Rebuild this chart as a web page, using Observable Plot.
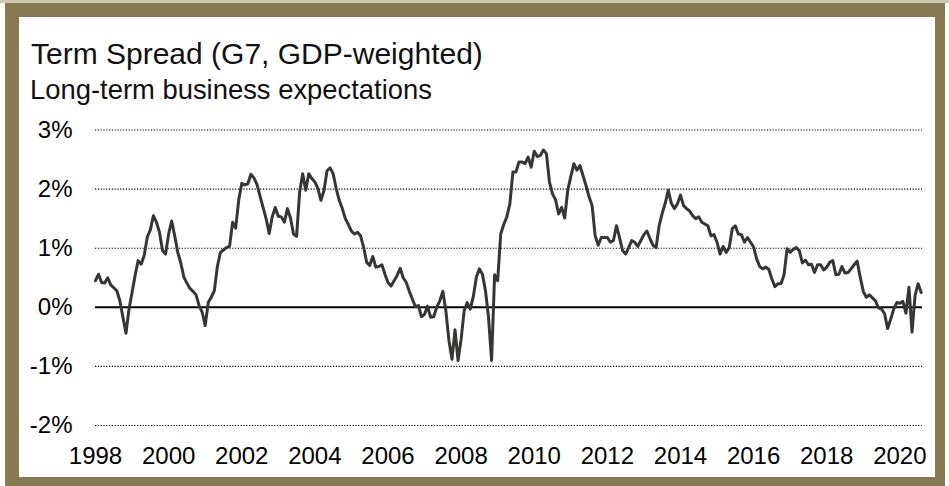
<!DOCTYPE html>
<html>
<head>
<meta charset="utf-8">
<script src="https://cdn.jsdelivr.net/npm/d3@7"></script>
<script src="https://cdn.jsdelivr.net/npm/@observablehq/plot@0.6"></script>
<style>
  html, body { margin: 0; padding: 0; background: #fff; }
  body { width: 949px; height: 486px; position: relative; overflow: hidden; font-family: "Liberation Sans", Arial, Helvetica, sans-serif; }
  #strip { position: absolute; left: 0; top: 0; width: 949px; height: 3px; background: #cfc8b3; }
  #frame { position: absolute; left: 5px; top: 3px; width: 940px; height: 483px; box-sizing: border-box;
           border-style: solid; border-color: #877a50; border-width: 14px 10px 9px 14px; background: #fff; }
  .title { position: absolute; left: 31px; top: 39px; font-size: 30px; line-height: 30px; color: #111; white-space: nowrap; }
  .subtitle { position: absolute; left: 30px; top: 76px; font-size: 27.4px; line-height: 27.4px; color: #111; white-space: nowrap; }
  #chart { position: absolute; left: 19px; top: 105px; }
</style>
</head>
<body>
<div id="strip"></div>
<div id="frame"></div>
<div class="title">Term Spread (G7, GDP-weighted)</div>
<div class="subtitle">Long-term business expectations</div>
<div id="chart"></div>
<script>
// Monthly readings, starting January 1998 (percent)
const startYear = 1998;
const spread = [
  0.45,0.56,0.42,0.41,0.50,0.38,0.33,0.28,0.11,-0.17,-0.44,-0.03, // 1998
  0.25,0.54,0.79,0.73,0.88,1.19,1.31,1.55,1.44,1.27,0.96,0.90,    // 1999
  1.24,1.46,1.21,0.93,0.75,0.51,0.41,0.32,0.27,0.21,0.03,-0.08,   // 2000
  -0.31,0.08,0.17,0.28,0.69,0.93,0.97,1.01,1.03,1.44,1.34,1.81,   // 2001
  2.10,2.07,2.09,2.25,2.19,2.08,1.88,1.69,1.50,1.25,1.53,1.69,    // 2002
  1.54,1.53,1.44,1.67,1.51,1.24,1.20,1.95,2.26,1.98,2.26,2.18,    // 2003
  2.12,2.01,1.81,1.98,2.31,2.36,2.26,2.01,1.81,1.67,1.50,1.40,    // 2004
  1.29,1.24,1.27,1.21,1.02,0.76,0.71,0.86,0.68,0.69,0.72,0.56,    // 2005
  0.42,0.36,0.45,0.54,0.66,0.50,0.42,0.27,0.14,0.01,0.03,-0.16,   // 2006
  -0.12,0.02,-0.17,-0.16,0.00,0.11,0.27,-0.06,-0.56,-0.88,-0.38,-0.90, // 2007
  -0.54,-0.06,0.08,-0.03,0.18,0.51,0.65,0.56,0.28,-0.17,-0.90,0.55,  // 2008
  0.45,1.24,1.40,1.53,1.75,2.29,2.29,2.46,2.46,2.43,2.54,2.37,    // 2009
  2.64,2.55,2.57,2.66,2.60,2.12,1.92,1.82,1.58,1.69,1.51,1.98,    // 2010
  2.21,2.43,2.32,2.40,2.23,2.06,1.87,1.72,1.21,1.05,1.18,1.18,    // 2011
  1.18,1.10,1.13,1.38,1.18,0.96,0.90,1.01,1.13,1.10,1.03,1.13,    // 2012
  1.23,1.29,1.16,1.05,1.01,1.38,1.59,1.76,1.98,1.76,1.67,1.75,    // 2013
  1.90,1.72,1.67,1.63,1.55,1.50,1.53,1.44,1.41,1.38,1.21,1.23,    // 2014
  1.10,0.90,1.03,0.93,1.01,1.33,1.38,1.24,1.23,1.10,1.18,1.10,    // 2015
  1.02,0.82,0.69,0.65,0.68,0.64,0.48,0.35,0.40,0.40,0.55,0.99,    // 2016
  0.93,0.98,1.01,0.96,0.75,0.80,0.72,0.73,0.59,0.72,0.72,0.63,    // 2017
  0.68,0.76,0.79,0.55,0.56,0.69,0.58,0.59,0.65,0.72,0.78,0.51,    // 2018
  0.27,0.17,0.21,0.16,0.11,-0.01,-0.03,-0.11,-0.36,-0.20,-0.03,0.08, // 2019
  0.07,0.10,-0.10,0.34,-0.42,0.20,0.40,0.25                       // 2020
];
const xTicks = [1998,2000,2002,2004,2006,2008,2010,2012,2014,2016,2018,2020];
const yTicks = [-2,-1,0,1,2,3];
const xEnd = 2020.62;

const data = spread.map((v, i) => ({t: startYear + i / 12, v}));

const chart = Plot.plot({
  width: 916,
  height: 372,
  marginLeft: 76,
  marginRight: 13,
  marginTop: 24.5,
  marginBottom: 52,
  style: {fontFamily: "'Liberation Sans', Arial, Helvetica, sans-serif", fontSize: "24px", color: "#000", background: "transparent", overflow: "visible"},
  x: {domain: [startYear, xEnd], ticks: xTicks, tickFormat: d => String(d), tickSize: 0, tickPadding: 21, label: null},
  y: {domain: [-2, 3], ticks: yTicks, tickFormat: d => d + "%", tickSize: 0, tickPadding: 23, label: null},
  marks: [
    Plot.ruleY(yTicks.filter(d => d !== 0), {stroke: "#000", strokeWidth: 1.1, strokeDasharray: "1.2,1.6"}),
    Plot.ruleY([0], {stroke: "#000", strokeWidth: 2}),
    Plot.line(data, {x: "t", y: "v", stroke: "#353735", strokeWidth: 3, strokeLinejoin: "round"})
  ]
});
document.getElementById("chart").appendChild(chart);
</script>
</body>
</html>
